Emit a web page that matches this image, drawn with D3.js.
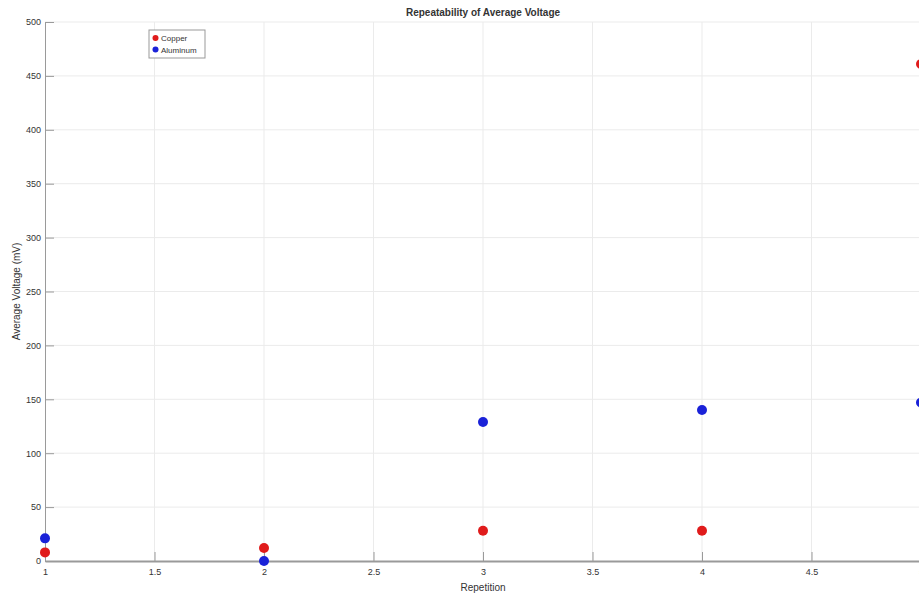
<!DOCTYPE html>
<html>
<head>
<meta charset="utf-8">
<script src="https://cdn.jsdelivr.net/npm/d3@7"></script>
<style>
  body { margin: 0; background: #fff; }
  svg { display: block; font-family: "Liberation Sans", Arial, sans-serif; }
</style>
</head>
<body>
<div id="chart"></div>
<script>
// Data
var repetitions = [1, 2, 3, 4, 5]
var copper = [8, 12, 28, 28, 461]
var aluminum = [21, 0, 129, 140, 147]
var xTicks = [1, 1.5, 2, 2.5, 3, 3.5, 4, 4.5, 5]
var yTicks = [0, 50, 100, 150, 200, 250, 300, 350, 400, 450, 500]

var width = 919
var height = 595
var margin = { top: 22, right: -2, bottom: 34, left: 45 }
var chartWidth = width - margin.left - margin.right
var chartHeight = height - margin.top - margin.bottom

var svg = d3.select('#chart').append('svg')
  .attr('width', width)
  .attr('height', height)

var g = svg.append('g')
  .attr('transform', 'translate(' + margin.left + ',' + margin.top + ')')

// Scales
var x = d3.scaleLinear().domain([1, 5]).range([0, chartWidth])
var y = d3.scaleLinear().domain([0, 500]).range([chartHeight, 0])

// Grid
g.append('g').selectAll('line')
  .data(xTicks.slice(1))
  .enter().append('line')
  .attr('x1', function (d) { return x(d) })
  .attr('x2', function (d) { return x(d) })
  .attr('y1', 0)
  .attr('y2', chartHeight)
  .attr('stroke', '#ebebeb')

g.append('g').selectAll('line')
  .data(yTicks.slice(1))
  .enter().append('line')
  .attr('x1', 0)
  .attr('x2', chartWidth)
  .attr('y1', function (d) { return y(d) })
  .attr('y2', function (d) { return y(d) })
  .attr('stroke', '#ebebeb')

// Axes
var xAxis = g.append('g')
  .attr('transform', 'translate(0,' + chartHeight + ')')
  .call(d3.axisBottom(x).tickValues(xTicks).tickSizeInner(-9).tickSizeOuter(0).tickPadding(8)
    .tickFormat(d3.format('')))
xAxis.select('.domain').attr('stroke', '#9a9a9a').attr('stroke-width', 2)
xAxis.selectAll('.tick line').attr('stroke', '#9a9a9a')
xAxis.selectAll('text').attr('fill', '#333').attr('font-size', 9)

var yAxis = g.append('g')
  .call(d3.axisLeft(y).tickValues(yTicks).tickSizeInner(-9).tickSizeOuter(0).tickPadding(4))
yAxis.select('.domain').attr('stroke', '#9a9a9a')
yAxis.selectAll('.tick line').attr('stroke', '#9a9a9a')
yAxis.selectAll('text').attr('fill', '#333').attr('font-size', 9)

// Points
var series = [
  { name: 'Copper', values: copper, color: '#e01b1b' },
  { name: 'Aluminum', values: aluminum, color: '#1a22d8' }
]

series.forEach(function (s) {
  g.append('g').selectAll('circle')
    .data(s.values)
    .enter().append('circle')
    .attr('cx', function (d, i) { return x(repetitions[i]) })
    .attr('cy', function (d) { return y(d) })
    .attr('r', 5)
    .attr('fill', s.color)
})

// Title and labels
svg.append('text')
  .attr('x', 483)
  .attr('y', 16)
  .attr('text-anchor', 'middle')
  .attr('font-size', 10)
  .attr('font-weight', 'bold')
  .attr('fill', '#333')
  .text('Repeatability of Average Voltage')

svg.append('text')
  .attr('x', 483)
  .attr('y', 591)
  .attr('text-anchor', 'middle')
  .attr('font-size', 10)
  .attr('fill', '#333')
  .text('Repetition')

svg.append('text')
  .attr('transform', 'translate(20,' + (margin.top + chartHeight / 2) + ') rotate(-90)')
  .attr('text-anchor', 'middle')
  .attr('font-size', 10)
  .attr('fill', '#333')
  .text('Average Voltage (mV)')

// Legend
var legend = svg.append('g').attr('transform', 'translate(149,30)')
legend.append('rect')
  .attr('width', 56)
  .attr('height', 28)
  .attr('fill', '#fff')
  .attr('stroke', '#999')
series.forEach(function (s, i) {
  legend.append('circle')
    .attr('cx', 6.5)
    .attr('cy', 8 + i * 11.5)
    .attr('r', 3)
    .attr('fill', s.color)
  legend.append('text')
    .attr('x', 12)
    .attr('y', 11 + i * 11.5)
    .attr('font-size', 8)
    .attr('fill', '#333')
    .text(s.name)
})
</script>
</body>
</html>
